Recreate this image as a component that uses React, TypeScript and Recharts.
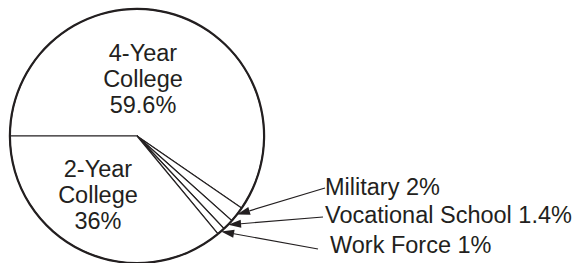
import React from 'react';
import { PieChart, Pie, Cell } from 'recharts';

const categories = ['4-Year College', 'Military', 'Vocational School', 'Work Force', '2-Year College'];
const shares = [59.6, 2, 1.4, 1, 36];
const labelLines = [['4-Year', 'College'], ['Military'], ['Vocational School'], ['Work Force'], ['2-Year', 'College']];

const data = categories.map((name, i) => ({ name, value: shares[i] }));

const INK = '#231f20';
const FONT = '"Liberation Sans", Arial, Helvetica, sans-serif';
const RAD = Math.PI / 180;
const FS = 23.5;

// layout offsets relative to the pie centre (text placement only)
const insideAnchor: Record<number, { dx: number; dy: number }> = {
  0: { dx: 6, dy: -75 },
  4: { dx: -39, dy: 41 },
};
const calloutAnchor: Record<number, { tx: number; ty: number; lx: number; ly: number }> = {
  1: { tx: 188, ty: 59, lx: 188, ly: 52 },
  2: { tx: 188, ty: 87, lx: 186, ly: 81 },
  3: { tx: 193, ty: 117, lx: 181, ly: 113 },
};

const renderLabel = (props: any) => {
  const { cx, cy, midAngle, outerRadius, index } = props;
  const pct = `${shares[index]}%`;
  const inside = insideAnchor[index];
  if (inside) {
    const lines = [...labelLines[index], pct];
    return (
      <text x={cx + inside.dx} y={cy + inside.dy} textAnchor="middle" fill={INK} fontSize={FS} fontFamily={FONT}>
        {lines.map((l, k) => (
          <tspan key={k} x={cx + inside.dx} dy={k === 0 ? 0 : 26}>
            {l}
          </tspan>
        ))}
      </text>
    );
  }
  const c = calloutAnchor[index];
  const r = outerRadius - 1;
  const tipX = cx + r * Math.cos(-midAngle * RAD);
  const tipY = cy + r * Math.sin(-midAngle * RAD);
  const sx = cx + c.lx;
  const sy = cy + c.ly;
  const ang = Math.atan2(tipY - sy, tipX - sx);
  const L = 13;
  const W = 4;
  const bx = tipX - L * Math.cos(ang);
  const by = tipY - L * Math.sin(ang);
  const px = -Math.sin(ang) * W;
  const py = Math.cos(ang) * W;
  return (
    <g>
      <line x1={sx} y1={sy} x2={bx} y2={by} stroke={INK} strokeWidth={1.2} />
      <polygon points={`${tipX},${tipY} ${bx + px},${by + py} ${bx - px},${by - py}`} fill={INK} />
      <text x={cx + c.tx} y={cy + c.ty} fill={INK} fontSize={FS} fontFamily={FONT} textAnchor="start">
        {`${labelLines[index][0]} ${pct}`}
      </text>
    </g>
  );
};

export default function App() {
  return (
    <div style={{ position: 'absolute', left: 0, top: 0, width: 576, height: 263, background: '#fff' }}>
      <PieChart width={576} height={263} margin={{ top: 0, right: 0, bottom: 0, left: 0 }}>
        <Pie
          data={data}
          dataKey="value"
          nameKey="name"
          cx={137}
          cy={136}
          innerRadius={0}
          outerRadius={127}
          startAngle={180}
          endAngle={-180}
          stroke={INK}
          strokeWidth={1.2}
          fill="#fff"
          label={false}
          labelLine={false}
          isAnimationActive={false}
        >
          {data.map((d) => (
            <Cell key={d.name} fill="#fff" stroke={INK} strokeWidth={1.2} />
          ))}
        </Pie>
        <Pie
          data={data}
          dataKey="value"
          nameKey="name"
          cx={137}
          cy={136}
          innerRadius={126}
          outerRadius={128.2}
          startAngle={180}
          endAngle={-180}
          stroke="none"
          fill={INK}
          label={renderLabel}
          labelLine={false}
          isAnimationActive={false}
        >
          {data.map((d) => (
            <Cell key={d.name} fill={INK} stroke="none" />
          ))}
        </Pie>
      </PieChart>
    </div>
  );
}
